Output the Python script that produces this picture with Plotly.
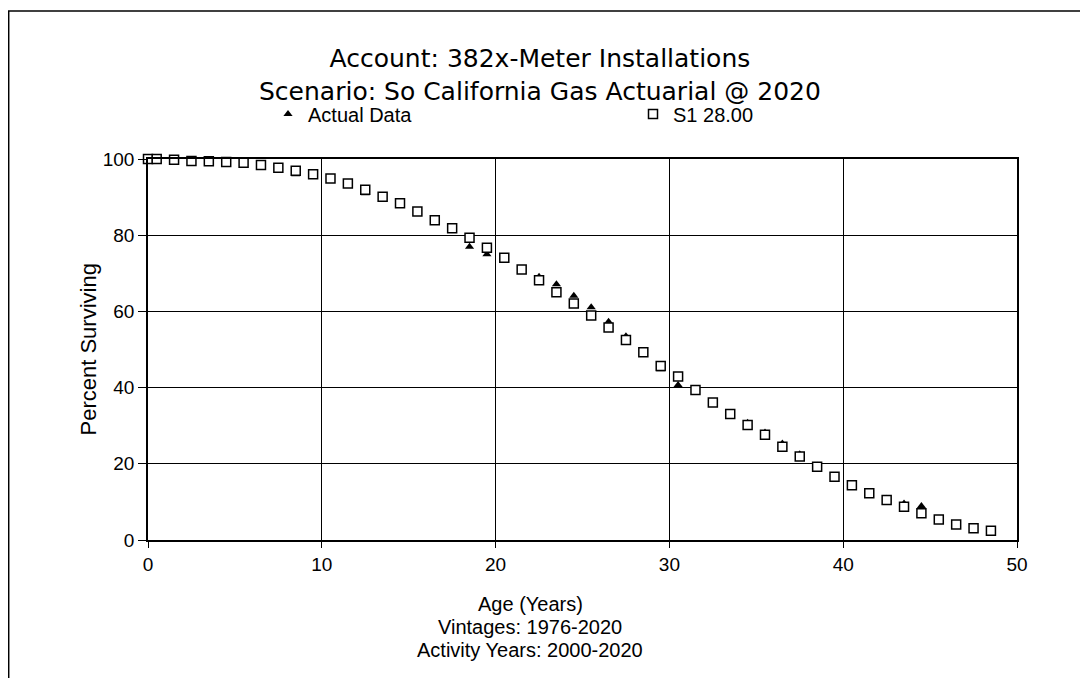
import plotly.graph_objects as go

ages = [0, 0.5, 1.5, 2.5, 3.5, 4.5, 5.5, 6.5, 7.5, 8.5, 9.5, 10.5, 11.5, 12.5, 13.5, 14.5,
        15.5, 16.5, 17.5, 18.5, 19.5, 20.5, 21.5, 22.5, 23.5, 24.5, 25.5, 26.5, 27.5, 28.5,
        29.5, 30.5, 31.5, 32.5, 33.5, 34.5, 35.5, 36.5, 37.5, 38.5, 39.5, 40.5, 41.5, 42.5,
        43.5, 44.5, 45.5, 46.5, 47.5, 48.5]

s1_curve = [100.0, 100.0, 99.8, 99.5, 99.4, 99.2, 99.0, 98.4, 97.7, 96.9, 96.0, 94.9, 93.6, 91.9,
            90.1, 88.4, 86.2, 83.9, 81.8, 79.3, 76.7, 74.1, 71.0, 68.2, 65.0, 62.1, 58.9, 55.8,
            52.5, 49.3, 45.7, 42.9, 39.4, 36.1, 33.1, 30.2, 27.6, 24.5, 21.9, 19.2, 16.6, 14.4,
            12.3, 10.5, 8.7, 7.0, 5.4, 4.1, 3.1, 2.4]

actual_ages = ages[:46]
actual_data = [100.0, 100.0, 99.8, 99.3, 98.8, 99.0, 98.4, 97.9, 97.0, 96.0, 95.4, 94.5, 93.3, 91.0,
               90.0, 88.2, 86.0, 83.8, 81.3, 77.0, 75.0, 74.0, 71.0, 69.1, 67.1, 64.1, 61.1, 57.3,
               53.5, 49.3, 44.8, 40.7, 38.8, 36.1, 33.1, 30.8, 28.2, 25.3, 22.5, 19.5, 16.6, 14.4,
               12.3, 10.8, 9.6, 8.9]

title_lines = ["Account: 382x-Meter Installations", "Scenario: So California Gas Actuarial @ 2020"]
xtitle_lines = ["Age (Years)", "Vintages: 1976-2020", "Activity Years: 2000-2020"]
ytitle = "Percent Surviving"

# page body has an 8px margin; work in window pixels and convert
OFF = 8
W, H = 1072, 670
PL, PR, PT, PB = 148, 1017, 159, 540   # plot area in window pixels
L, T = PL - OFF, PT - OFF
R, B = W - (PR - OFF), H - (PB - OFF)
PW, PH = PR - PL, PB - PT

def px_x(px):
    return (px - PL) / PW

def px_y(py):
    return (PB - py) / PH

FONT = "Liberation Sans, Arial, sans-serif"
TFONT = "DejaVu Sans, Liberation Sans, sans-serif"

fig = go.Figure()
fig.add_trace(go.Scatter(
    x=actual_ages, y=actual_data, mode="markers", name="Actual Data",
    marker=dict(symbol="triangle-up", size=8, color="black", line=dict(width=0)),
    cliponaxis=False,
))
fig.add_trace(go.Scatter(
    x=ages, y=s1_curve, mode="markers", name="S1 28.00",
    marker=dict(symbol="square", size=9, color="white", line=dict(width=1.5, color="black")),
    cliponaxis=False,
))

annotations = [
    dict(text="<br>".join(title_lines), x=px_x(540), y=px_y(75),
         xref="paper", yref="paper", showarrow=False,
         xanchor="center", yanchor="middle", align="center",
         font=dict(family=TFONT, size=25, color="black")),
]
for i, t in enumerate(xtitle_lines):
    annotations.append(dict(text=t, x=px_x(530), y=px_y(604 + 23 * i),
                            xref="paper", yref="paper", showarrow=False,
                            xanchor="center", yanchor="middle",
                            font=dict(family=FONT, size=20, color="black")))
annotations.append(dict(text=ytitle, x=px_x(88), y=0.5, textangle=-90,
                        xref="paper", yref="paper", showarrow=False,
                        xanchor="center", yanchor="middle",
                        font=dict(family=FONT, size=22, color="black")))

shapes = [
    dict(type="line", xref="paper", yref="paper",
         x0=px_x(8.7), x1=px_x(8.7), y0=px_y(11), y1=px_y(700),
         line=dict(color="black", width=1.5)),
    dict(type="line", xref="paper", yref="paper",
         x0=px_x(8), x1=px_x(1081), y0=px_y(11), y1=px_y(11),
         line=dict(color="black", width=1.5)),
]

fig.update_layout(
    width=W, height=H,
    margin=dict(l=L, r=R, t=T, b=B),
    paper_bgcolor="white", plot_bgcolor="white",
    font=dict(family=FONT, size=19, color="black"),
    showlegend=True,
    legend=dict(orientation="h", x=px_x(268), y=px_y(114),
                xanchor="left", yanchor="middle", itemwidth=30,
                entrywidth=320, entrywidthmode="pixels",
                font=dict(family=FONT, size=20, color="black"),
                bgcolor="rgba(0,0,0,0)"),
    annotations=annotations,
    shapes=shapes,
    xaxis=dict(range=[0, 50], dtick=10, tick0=0, showgrid=True, gridcolor="black", gridwidth=1,
               showline=True, linecolor="black", linewidth=1.5, mirror=True,
               ticks="outside", ticklen=6, tickcolor="black", zeroline=False,
               tickfont=dict(family=FONT, size=19, color="black")),
    yaxis=dict(range=[0, 100], dtick=20, tick0=0, showgrid=True, gridcolor="black", gridwidth=1,
               showline=True, linecolor="black", linewidth=1.5, mirror=True,
               ticks="outside", ticklen=8, tickcolor="black", zeroline=False,
               tickfont=dict(family=FONT, size=19, color="black")),
)

fig.write_html("out.html")
